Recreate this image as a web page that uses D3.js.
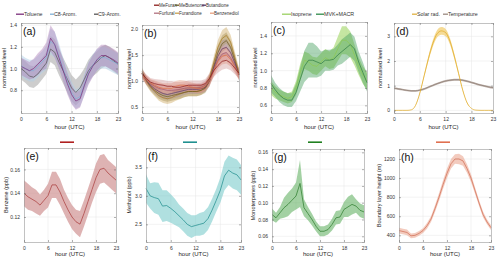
<!DOCTYPE html>
<html>
<head>
<meta charset="utf-8">
<script src="https://cdn.jsdelivr.net/npm/d3@7"></script>
<style>
  body { margin: 0; background: #fff; }
  text { font-family: "Liberation Sans", Arial, sans-serif; }
  .tick text { font-size: 5px; fill: #333; }
  .tick line { stroke: #666; stroke-width: 0.5; }
  .domain { stroke: #999; stroke-width: 0.6; }
</style>
</head>
<body>
<div id="chart"></div>
<script>
var width = 500,
    height = 262;

var hourTicks = [0, 6, 12, 18, 23];

// (a) aromatics
var tolMean = [1.02,1.00,0.98,1.00,1.04,1.08,1.12,1.28,1.22,1.10,0.98,0.86,0.76,0.70,0.72,0.84,0.95,1.02,1.08,1.12,1.12,1.10,1.08,1.05];
var tolSd   = [0.08,0.08,0.08,0.09,0.10,0.10,0.12,0.12,0.12,0.10,0.10,0.10,0.09,0.08,0.08,0.09,0.10,0.10,0.10,0.10,0.10,0.10,0.10,0.10];
var c8Mean  = [1.03,1.00,0.98,0.98,1.02,1.06,1.10,1.25,1.22,1.12,1.00,0.88,0.78,0.72,0.74,0.85,0.96,1.03,1.08,1.10,1.10,1.08,1.06,1.04];
var c8Sd    = [0.10,0.10,0.10,0.10,0.10,0.10,0.11,0.12,0.12,0.11,0.10,0.10,0.10,0.09,0.09,0.10,0.10,0.10,0.10,0.10,0.10,0.10,0.10,0.10];
var c9Mean  = [1.00,0.97,0.93,0.92,0.95,1.00,1.05,1.18,1.15,1.06,0.98,0.90,0.82,0.78,0.82,0.90,0.98,1.03,1.06,1.10,1.12,1.10,1.07,1.04];
var c9Sd    = [0.10,0.10,0.10,0.10,0.10,0.10,0.10,0.12,0.12,0.12,0.12,0.12,0.12,0.12,0.12,0.10,0.10,0.10,0.10,0.10,0.10,0.10,0.10,0.10];

// (b) biomass burning tracers
var meFuranMean   = [1.15,1.05,0.98,0.95,0.93,0.92,0.90,0.90,0.88,0.88,0.90,0.92,0.92,0.92,0.92,0.95,1.05,1.20,1.30,1.38,1.40,1.35,1.25,1.15];
var meButMean     = [1.18,1.02,0.90,0.82,0.76,0.72,0.70,0.72,0.74,0.76,0.78,0.80,0.80,0.80,0.82,0.86,1.00,1.28,1.55,1.72,1.78,1.65,1.40,1.12];
var butandMean    = [1.15,1.02,0.92,0.85,0.80,0.76,0.74,0.76,0.78,0.80,0.82,0.84,0.84,0.84,0.85,0.88,1.00,1.25,1.48,1.62,1.65,1.55,1.35,1.12];
var furfuralMean  = [1.12,1.02,0.95,0.90,0.86,0.84,0.82,0.82,0.83,0.84,0.86,0.87,0.87,0.87,0.88,0.92,1.02,1.22,1.40,1.52,1.55,1.45,1.30,1.12];
var furandMean    = [1.15,1.00,0.88,0.80,0.72,0.68,0.66,0.68,0.72,0.75,0.78,0.80,0.80,0.80,0.82,0.88,1.05,1.35,1.65,1.82,1.88,1.75,1.45,1.15];
var benzdiolMean  = [1.12,1.03,0.96,0.92,0.88,0.86,0.86,0.86,0.90,0.92,0.92,0.90,0.88,0.86,0.86,0.90,1.00,1.20,1.38,1.48,1.50,1.42,1.28,1.12];
var bSd           = [0.08,0.08,0.08,0.09,0.10,0.10,0.10,0.10,0.10,0.10,0.09,0.09,0.09,0.09,0.09,0.09,0.10,0.12,0.14,0.16,0.16,0.14,0.12,0.10];

// (c) isoprene and oxidation products
var isoMean = [0.80,0.75,0.72,0.70,0.68,0.70,0.80,0.98,1.12,1.10,1.06,1.05,1.10,1.15,1.12,1.15,1.25,1.35,1.35,1.30,1.18,1.05,0.95,0.88];
var isoSd   = [0.08,0.07,0.06,0.06,0.06,0.06,0.08,0.10,0.10,0.10,0.10,0.10,0.10,0.10,0.10,0.12,0.14,0.16,0.16,0.15,0.12,0.10,0.10,0.10];
var mvkMean = [0.85,0.78,0.72,0.68,0.66,0.66,0.75,0.90,1.05,1.12,1.12,1.10,1.08,1.12,1.12,1.13,1.18,1.22,1.26,1.30,1.25,1.10,0.98,0.86];
var mvkSd   = [0.10,0.08,0.08,0.08,0.08,0.08,0.10,0.14,0.18,0.20,0.20,0.18,0.14,0.12,0.12,0.12,0.12,0.14,0.14,0.14,0.14,0.12,0.12,0.10];

// (d) meteorology
var solarMean = [0,0,0,0,0.02,0.20,0.70,1.40,2.10,2.70,3.10,3.22,3.15,2.80,2.20,1.50,0.80,0.30,0.08,0.01,0,0,0,0];
var solarSd   = [0,0,0,0,0,0.01,0.03,0.06,0.10,0.13,0.15,0.16,0.15,0.13,0.10,0.07,0.04,0.02,0,0,0,0,0,0];
var tempMean  = [0.90,0.87,0.84,0.81,0.79,0.79,0.82,0.87,0.94,1.01,1.08,1.14,1.19,1.22,1.24,1.24,1.22,1.18,1.13,1.08,1.03,0.99,0.95,0.92];
var tempSd    = [0.04,0.04,0.04,0.04,0.04,0.04,0.04,0.04,0.04,0.04,0.04,0.04,0.04,0.04,0.04,0.04,0.04,0.04,0.04,0.04,0.04,0.04,0.04,0.04];

// (e)-(h) absolute levels
var benzMean = [0.140,0.137,0.135,0.133,0.130,0.134,0.138,0.147,0.147,0.141,0.133,0.126,0.120,0.116,0.114,0.123,0.133,0.143,0.153,0.160,0.161,0.157,0.154,0.151];
var benzSd   = [0.011,0.011,0.010,0.010,0.009,0.009,0.010,0.011,0.011,0.011,0.010,0.010,0.010,0.010,0.011,0.011,0.011,0.011,0.012,0.012,0.012,0.011,0.011,0.011];
var methMean = [3.13,3.00,2.97,2.95,2.82,2.83,2.78,2.72,2.65,2.58,2.50,2.46,2.48,2.50,2.52,2.60,2.75,2.92,3.10,3.35,3.45,3.40,3.37,3.28];
var methSd   = [0.25,0.22,0.27,0.28,0.28,0.27,0.25,0.23,0.20,0.20,0.20,0.20,0.18,0.20,0.20,0.20,0.20,0.20,0.22,0.25,0.26,0.27,0.27,0.26];
var monoMean = [0.086,0.082,0.088,0.094,0.098,0.103,0.108,0.123,0.094,0.087,0.080,0.072,0.066,0.066,0.068,0.074,0.082,0.083,0.092,0.095,0.098,0.096,0.091,0.089];
var monoSd   = [0.007,0.006,0.007,0.012,0.014,0.014,0.016,0.028,0.010,0.008,0.007,0.006,0.006,0.006,0.006,0.007,0.008,0.008,0.009,0.012,0.012,0.008,0.008,0.008];
var blhMean  = [450,440,430,395,400,420,450,500,570,680,800,930,1050,1150,1200,1200,1180,1100,1000,870,740,620,540,480];
var blhSd    = [30,30,30,25,25,25,25,30,30,35,40,45,50,50,50,55,50,45,40,35,30,30,25,25];

var svg = d3.select("#chart").append("svg")
    .attr("width", width)
    .attr("height", height);

svg.append("rect").attr("width", width).attr("height", height).attr("fill", "#fff");

function drawPanel(p) {
    var x = d3.scaleLinear().domain([0, 23]).range([p.left, p.right]);
    var y = d3.scaleLinear().domain(p.yDomain).range([p.bottom, p.top]);
    var g = svg.append("g");
    var curve = p.smooth ? d3.curveMonotoneX : d3.curveLinear;

    // grid
    g.selectAll(".gx").data(hourTicks.slice(1, 4)).enter().append("line")
        .attr("x1", d => x(d)).attr("x2", d => x(d))
        .attr("y1", p.top).attr("y2", p.bottom)
        .attr("stroke", "#e6e6e6").attr("stroke-width", 0.5);
    g.selectAll(".gy").data(p.yTicks).enter().append("line")
        .attr("x1", p.left).attr("x2", p.right)
        .attr("y1", d => y(d)).attr("y2", d => y(d))
        .attr("stroke", "#e6e6e6").attr("stroke-width", 0.5);

    p.series.forEach(function (s) {
        var area = d3.area()
            .x((d, i) => x(i))
            .y0((d, i) => y(d - s.sd[i]))
            .y1((d, i) => y(d + s.sd[i]))
            .curve(curve);
        g.append("path").datum(s.mean)
            .attr("d", area)
            .attr("fill", s.fill)
            .attr("fill-opacity", s.op || 0.5);
    });
    p.series.forEach(function (s) {
        var line = d3.line().x((d, i) => x(i)).y(d => y(d)).curve(curve);
        g.append("path").datum(s.mean)
            .attr("d", line)
            .attr("fill", "none")
            .attr("stroke", s.color)
            .attr("stroke-width", 0.7);
    });

    var fmt = p.fmt || (d => d);
    g.append("g").attr("transform", "translate(0," + p.bottom + ")")
        .call(d3.axisBottom(x).tickValues(hourTicks).tickSize(-2).tickPadding(4));
    g.append("g").attr("transform", "translate(0," + p.top + ")")
        .call(d3.axisTop(x).tickValues(hourTicks).tickSize(-2).tickFormat(""));
    g.append("g").attr("transform", "translate(" + p.left + ",0)")
        .call(d3.axisLeft(y).tickValues(p.yTicks).tickSize(-2).tickPadding(4).tickFormat(fmt));
    g.append("g").attr("transform", "translate(" + p.right + ",0)")
        .call(d3.axisRight(y).tickValues(p.yTicks).tickSize(-2).tickFormat(""));

    g.append("text")
        .attr("x", (p.left + p.right) / 2).attr("y", p.bottom + p.xlabDy)
        .attr("text-anchor", "middle").attr("font-size", 6).attr("fill", "#222")
        .text("hour (UTC)");
    g.append("text")
        .attr("transform", "translate(" + p.ylabX + "," + ((p.top + p.bottom) / 2) + ") rotate(-90)")
        .attr("text-anchor", "middle").attr("font-size", 5.5).attr("fill", "#222")
        .text(p.ylabel);
    g.append("text")
        .attr("x", p.left + 2).attr("y", p.top + 12)
        .attr("font-size", 10.5).attr("fill", "#111")
        .text(p.label);

    (p.legend || []).forEach(function (l) {
        g.append("line")
            .attr("x1", l.x).attr("x2", l.x + l.w)
            .attr("y1", l.y - 1.8).attr("y2", l.y - 1.8)
            .attr("stroke", l.color).attr("stroke-width", l.sw || 1.3);
        if (l.text) {
            g.append("text").attr("x", l.x + l.w).attr("y", l.y)
                .attr("font-size", l.fs || 5.3).attr("fill", "#333").text(l.text);
        }
    });
}

drawPanel({
    label: "(a)", left: 21, right: 118, top: 23, bottom: 113, xlabDy: 16,
    yDomain: [0.59, 1.42], yTicks: [0.8, 1.0, 1.2, 1.4], fmt: d3.format(".1f"),
    ylabel: "normalised level", ylabX: 6,
    series: [
        { mean: c9Mean, sd: c9Sd, color: "#555", fill: "#909090", op: 0.45 },
        { mean: c8Mean, sd: c8Sd, color: "#7fb0d8", fill: "#b0d0e8", op: 0.5 },
        { mean: tolMean, sd: tolSd, color: "#7b2d7b", fill: "#b080b8", op: 0.45 }
    ],
    legend: [
        { x: 16, y: 16, w: 8, color: "#7b2d7b", text: "Toluene" },
        { x: 50, y: 16, w: 4, color: "#7fb0d8", text: "C8-Arom." },
        { x: 94, y: 16, w: 4, color: "#555", text: "C9-Arom." }
    ]
});

drawPanel({
    label: "(b)", left: 142, right: 239, top: 25, bottom: 113, xlabDy: 16,
    yDomain: [0.385, 2.08], yTicks: [0.5, 1.0, 1.5, 2.0], fmt: d3.format(".1f"),
    ylabel: "normalised level", ylabX: 131,
    series: [
        { mean: furandMean, sd: bSd, color: "#a87a20", fill: "#c8a050", op: 0.4 },
        { mean: meButMean, sd: bSd, color: "#6b5a20", fill: "#8a7530", op: 0.3 },
        { mean: butandMean, sd: bSd, color: "#5a3a6a", fill: "#8a6a9a", op: 0.25 },
        { mean: furfuralMean, sd: bSd, color: "#a05a70", fill: "#c08090", op: 0.25 },
        { mean: benzdiolMean, sd: bSd, color: "#e07040", fill: "#e89070", op: 0.35 },
        { mean: meFuranMean, sd: bSd, color: "#8b1a1a", fill: "#c07070", op: 0.3 }
    ],
    legend: [
        { x: 154, y: 7, w: 5, color: "#8b1a1a", text: "MeFuran", fs: 4.5 },
        { x: 175, y: 7, w: 4, color: "#6b5a20", text: "MeButenone", fs: 4.5 },
        { x: 202, y: 7, w: 4, color: "#5a3a6a", text: "Butandione", fs: 4.5 },
        { x: 154, y: 15, w: 5, color: "#b07080", text: "Furfural", fs: 4.5 },
        { x: 175, y: 15, w: 4, color: "#c8a050", text: "Furandione", fs: 4.5 },
        { x: 210, y: 15, w: 4, color: "#e8a080", text: "Benzenediol", fs: 4.5 }
    ]
});

drawPanel({
    label: "(c)", left: 271, right: 367, top: 22, bottom: 113, xlabDy: 16,
    yDomain: [0.512, 1.56], yTicks: [0.6, 0.8, 1.0, 1.2, 1.4], fmt: d3.format(".1f"),
    ylabel: "normalised level", ylabX: 257,
    series: [
        { mean: isoMean, sd: isoSd, color: "#8cc850", fill: "#a8d870", op: 0.65 },
        { mean: mvkMean, sd: mvkSd, color: "#2e7b42", fill: "#48a060", op: 0.45 }
    ],
    legend: [
        { x: 282, y: 16, w: 9, color: "#9ad060", text: "Isoprene" },
        { x: 316, y: 16, w: 8, color: "#2e8b4a", text: "MVK+MACR" }
    ]
});

drawPanel({
    label: "(d)", left: 394, right: 493, top: 23, bottom: 113, xlabDy: 16, smooth: true,
    yDomain: [-0.107, 3.54], yTicks: [0, 1, 2, 3],
    ylabel: "normalised level", ylabX: 382,
    series: [
        { mean: tempMean, sd: tempSd, color: "#8a7a70", fill: "#b0a098", op: 0.8 },
        { mean: solarMean, sd: solarSd, color: "#e0a820", fill: "#f0c860", op: 0.65 }
    ],
    legend: [
        { x: 412, y: 16, w: 5, color: "#e0b040", text: "Solar rad." },
        { x: 443, y: 16, w: 5, color: "#9a8a80", text: "Temperature" }
    ]
});

drawPanel({
    label: "(e)", left: 24, right: 116, top: 148, bottom: 242, xlabDy: 14,
    yDomain: [0.099, 0.178], yTicks: [0.12, 0.14, 0.16], fmt: d3.format(".2f"),
    ylabel: "Benzene (ppb)", ylabX: 8,
    series: [{ mean: benzMean, sd: benzSd, color: "#a83838", fill: "#c88080", op: 0.6 }],
    legend: [{ x: 60, y: 144, w: 14, color: "#b02020", sw: 1.6 }]
});

drawPanel({
    label: "(f)", left: 146, right: 241, top: 148, bottom: 242, xlabDy: 14,
    yDomain: [2.19, 3.84], yTicks: [2.5, 3.0, 3.5], fmt: d3.format(".1f"),
    ylabel: "Methanol (ppb)", ylabX: 131,
    series: [{ mean: methMean, sd: methSd, color: "#1a8a8a", fill: "#70c6c6", op: 0.55 }],
    legend: [{ x: 183, y: 144, w: 14, color: "#209090", sw: 1.6 }]
});

drawPanel({
    label: "(g)", left: 272, right: 364, top: 149, bottom: 242, xlabDy: 14,
    yDomain: [0.0532, 0.164], yTicks: [0.06, 0.08, 0.10, 0.12, 0.14, 0.16], fmt: d3.format(".2f"),
    ylabel: "Monoterpenes (ppb)", ylabX: 255,
    series: [{ mean: monoMean, sd: monoSd, color: "#2a7a2a", fill: "#66b266", op: 0.6 }],
    legend: [{ x: 308, y: 144, w: 14, color: "#208020", sw: 1.6 }]
});

drawPanel({
    label: "(h)", left: 399, right: 491, top: 149, bottom: 242, xlabDy: 14,
    yDomain: [330, 1305], yTicks: [400, 600, 800, 1000, 1200],
    ylabel: "Boundary layer height (m)", ylabX: 381,
    series: [{ mean: blhMean, sd: blhSd, color: "#d06a50", fill: "#eaa088", op: 0.55 }],
    legend: [{ x: 436, y: 144, w: 14, color: "#e07050", sw: 1.6 }]
});
</script>
</body>
</html>
